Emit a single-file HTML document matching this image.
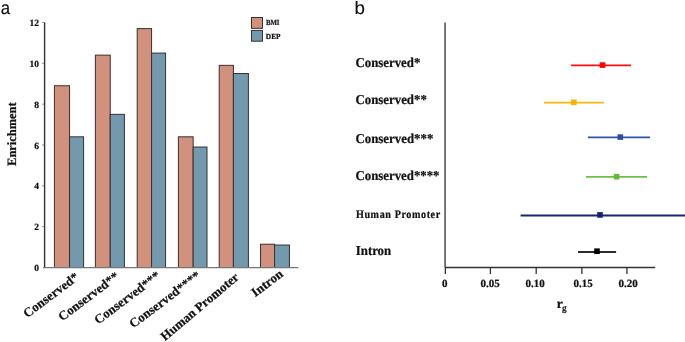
<!DOCTYPE html>
<html><head><meta charset="utf-8"><title>Enrichment and genetic correlation</title>
<style>
html,body{margin:0;padding:0;background:#fff;}
body{width:685px;height:342px;overflow:hidden;font-family:"Liberation Serif",serif;}
svg{display:block;will-change:transform;}
text{stroke:#111;stroke-width:0.22px;text-rendering:geometricPrecision;}
</style></head><body>
<svg width="685" height="342" viewBox="0 0 685 342">
<rect x="0" y="0" width="685" height="342" fill="#fff"/>
<text transform="translate(0.65,13.6) scale(0.92,1)" font-family='"Liberation Sans", sans-serif' font-size="18.3" fill="#111" style="stroke-width:0.15px">a</text>
<line x1="44.6" y1="22.5" x2="44.6" y2="267.6" stroke="#333" stroke-width="1.4"/>
<text x="39" y="271.10" text-anchor="end" font-family='"Liberation Serif", serif' font-weight="bold" font-size="9.5" fill="#111">0</text>
<line x1="42.2" y1="226.66" x2="44.5" y2="226.66" stroke="#555" stroke-width="0.7"/>
<text x="39" y="230.26" text-anchor="end" font-family='"Liberation Serif", serif' font-weight="bold" font-size="9.5" fill="#111">2</text>
<line x1="42.2" y1="185.82" x2="44.5" y2="185.82" stroke="#555" stroke-width="0.7"/>
<text x="39" y="189.42" text-anchor="end" font-family='"Liberation Serif", serif' font-weight="bold" font-size="9.5" fill="#111">4</text>
<line x1="42.2" y1="144.98" x2="44.5" y2="144.98" stroke="#555" stroke-width="0.7"/>
<text x="39" y="148.58" text-anchor="end" font-family='"Liberation Serif", serif' font-weight="bold" font-size="9.5" fill="#111">6</text>
<line x1="42.2" y1="104.14" x2="44.5" y2="104.14" stroke="#555" stroke-width="0.7"/>
<text x="39" y="107.74" text-anchor="end" font-family='"Liberation Serif", serif' font-weight="bold" font-size="9.5" fill="#111">8</text>
<line x1="42.2" y1="63.30" x2="44.5" y2="63.30" stroke="#555" stroke-width="0.7"/>
<text x="39" y="66.90" text-anchor="end" font-family='"Liberation Serif", serif' font-weight="bold" font-size="9.5" fill="#111">10</text>
<line x1="42.2" y1="22.46" x2="44.5" y2="22.46" stroke="#555" stroke-width="0.7"/>
<text x="39" y="26.06" text-anchor="end" font-family='"Liberation Serif", serif' font-weight="bold" font-size="9.5" fill="#111">12</text>
<text transform="translate(16.0,134.2) rotate(-90)" text-anchor="middle" textLength="63.4" lengthAdjust="spacingAndGlyphs" font-family='"Liberation Serif", serif' font-weight="bold" font-size="12.8" fill="#111">Enrichment</text>
<rect x="54.40" y="85.76" width="15.16" height="181.74" fill="#d1917c" stroke="#3a3030" stroke-width="1"/>
<rect x="69.56" y="136.81" width="14.02" height="130.69" fill="#7299ad" stroke="#3a3030" stroke-width="1"/>
<rect x="95.39" y="55.13" width="14.83" height="212.37" fill="#d1917c" stroke="#3a3030" stroke-width="1"/>
<rect x="110.22" y="114.35" width="14.19" height="153.15" fill="#7299ad" stroke="#3a3030" stroke-width="1"/>
<rect x="137.20" y="28.59" width="14.37" height="238.91" fill="#d1917c" stroke="#3a3030" stroke-width="1"/>
<rect x="151.57" y="53.09" width="14.01" height="214.41" fill="#7299ad" stroke="#3a3030" stroke-width="1"/>
<rect x="178.38" y="136.81" width="14.77" height="130.69" fill="#d1917c" stroke="#3a3030" stroke-width="1"/>
<rect x="193.15" y="147.02" width="13.85" height="120.48" fill="#7299ad" stroke="#3a3030" stroke-width="1"/>
<rect x="219.20" y="65.34" width="14.19" height="202.16" fill="#d1917c" stroke="#3a3030" stroke-width="1"/>
<rect x="233.39" y="73.51" width="15.01" height="193.99" fill="#7299ad" stroke="#3a3030" stroke-width="1"/>
<rect x="260.55" y="244.22" width="14.01" height="23.28" fill="#d1917c" stroke="#3a3030" stroke-width="1"/>
<rect x="274.56" y="245.04" width="14.89" height="22.46" fill="#7299ad" stroke="#3a3030" stroke-width="1"/>
<line x1="43" y1="267.6" x2="298.5" y2="267.6" stroke="#777" stroke-width="1.3"/>
<rect x="251.5" y="17.5" width="11" height="10.8" fill="#d1917c" stroke="#3a3030" stroke-width="1"/>
<rect x="251.5" y="30.4" width="11" height="10.8" fill="#7299ad" stroke="#3a3030" stroke-width="1"/>
<text x="265.88" y="25.30" textLength="13.65" lengthAdjust="spacingAndGlyphs" font-family='"Liberation Serif", serif' font-weight="bold" font-size="7.7" fill="#111" stroke="#111" stroke-width="0.3">BMI</text>
<text x="265.87" y="38.60" textLength="14.64" lengthAdjust="spacingAndGlyphs" font-family='"Liberation Serif", serif' font-weight="bold" font-size="7.7" fill="#111" stroke="#111" stroke-width="0.3">DEP</text>
<text transform="translate(79.80,278.70) rotate(-37)" text-anchor="end" font-family='"Liberation Serif", serif' font-weight="bold" font-size="13.0" fill="#111">Conserved<tspan font-weight="normal" style="stroke-width:0.35px">*</tspan></text>
<text transform="translate(120.00,278.00) rotate(-37)" text-anchor="end" font-family='"Liberation Serif", serif' font-weight="bold" font-size="13.0" fill="#111">Conserved<tspan font-weight="normal" style="stroke-width:0.35px">**</tspan></text>
<text transform="translate(161.20,277.40) rotate(-37)" text-anchor="end" font-family='"Liberation Serif", serif' font-weight="bold" font-size="13.0" fill="#111">Conserved<tspan font-weight="normal" style="stroke-width:0.35px">***</tspan></text>
<text transform="translate(201.40,277.30) rotate(-37)" text-anchor="end" font-family='"Liberation Serif", serif' font-weight="bold" font-size="13.0" fill="#111">Conserved<tspan font-weight="normal" style="stroke-width:0.35px">****</tspan></text>
<text transform="translate(239.70,278.50) rotate(-40)" text-anchor="end" font-family='"Liberation Serif", serif' font-weight="bold" font-size="12.9" fill="#111">Human Promoter</text>
<text transform="translate(284.00,275.60) rotate(-37)" text-anchor="end" font-family='"Liberation Serif", serif' font-weight="bold" font-size="13.0" fill="#111">Intron</text>
<text transform="translate(354.4,13.5) scale(1.04,1)" font-family='"Liberation Sans", sans-serif' font-size="18" fill="#111" style="stroke-width:0.15px">b</text>
<line x1="445.1" y1="22.5" x2="445.1" y2="267" stroke="#6a6a6a" stroke-width="1.8"/>
<line x1="444.8" y1="267.5" x2="655.2" y2="267.5" stroke="#333" stroke-width="1.4"/>
<line x1="445.35" y1="267.5" x2="445.35" y2="274" stroke="#333" stroke-width="1.3"/>
<text x="444.70" y="287.4" text-anchor="middle" font-family='"Liberation Serif", serif' font-weight="bold" font-size="11" fill="#111">0</text>
<line x1="490.4" y1="267.5" x2="490.4" y2="274" stroke="#333" stroke-width="1.3"/>
<text x="490.20" y="287.4" text-anchor="middle" font-family='"Liberation Serif", serif' font-weight="bold" font-size="11" fill="#111">0.05</text>
<line x1="536.2" y1="267.5" x2="536.2" y2="274" stroke="#333" stroke-width="1.3"/>
<text x="535.10" y="287.4" text-anchor="middle" font-family='"Liberation Serif", serif' font-weight="bold" font-size="11" fill="#111">0.10</text>
<line x1="581.9" y1="267.5" x2="581.9" y2="274" stroke="#333" stroke-width="1.3"/>
<text x="583.20" y="287.4" text-anchor="middle" font-family='"Liberation Serif", serif' font-weight="bold" font-size="11" fill="#111">0.15</text>
<line x1="626.9" y1="267.5" x2="626.9" y2="274" stroke="#333" stroke-width="1.3"/>
<text x="628.20" y="287.4" text-anchor="middle" font-family='"Liberation Serif", serif' font-weight="bold" font-size="11" fill="#111">0.20</text>
<text x="556.7" y="308.2" font-family='"Liberation Serif", serif' font-weight="bold" font-size="13.5" fill="#111">r</text>
<text x="561.9" y="310.6" font-family='"Liberation Serif", serif' font-weight="normal" font-size="9.2" fill="#111" style="stroke-width:0.35px">g</text>
<text x="355.47" y="67.35" textLength="64.87" lengthAdjust="spacingAndGlyphs" font-family='"Liberation Serif", serif' font-weight="bold" font-size="13.6" fill="#111">Conserved*</text>
<text x="355.47" y="104.20" textLength="71.37" lengthAdjust="spacingAndGlyphs" font-family='"Liberation Serif", serif' font-weight="bold" font-size="13.6" fill="#111">Conserved**</text>
<text x="355.47" y="142.60" textLength="77.87" lengthAdjust="spacingAndGlyphs" font-family='"Liberation Serif", serif' font-weight="bold" font-size="13.6" fill="#111">Conserved***</text>
<text x="355.47" y="179.70" textLength="84.07" lengthAdjust="spacingAndGlyphs" font-family='"Liberation Serif", serif' font-weight="bold" font-size="13.6" fill="#111">Conserved****</text>
<text x="355.76" y="255.25" textLength="35.43" lengthAdjust="spacingAndGlyphs" font-family='"Liberation Serif", serif' font-weight="bold" font-size="13.6" fill="#111">Intron</text>
<text transform="scale(0.88,1)" x="404.46" y="217.6" textLength="95.78" lengthAdjust="spacing" font-family='"Liberation Serif", serif' font-weight="bold" font-size="11.5" fill="#111">Human Promoter</text>
<line x1="571.1" y1="65.4" x2="631.0" y2="65.4" stroke="#ff1010" stroke-width="1.8"/>
<rect x="599.80" y="62.30" width="5.6" height="5.6" fill="#ff0000"/>
<line x1="544.0" y1="102.6" x2="603.9" y2="102.6" stroke="#f7b90f" stroke-width="1.8"/>
<rect x="571.00" y="99.50" width="5.6" height="5.6" fill="#f2b600"/>
<line x1="587.9" y1="137.4" x2="650.1" y2="137.4" stroke="#2d55a8" stroke-width="1.8"/>
<rect x="617.50" y="134.30" width="5.6" height="5.6" fill="#2a4fa0"/>
<line x1="585.9" y1="176.8" x2="647.1" y2="176.8" stroke="#6dc043" stroke-width="1.8"/>
<rect x="613.80" y="173.90" width="5.6" height="5.6" fill="#66b83d"/>
<line x1="520.6" y1="215.5" x2="686.0" y2="215.5" stroke="#1b2570" stroke-width="1.8"/>
<rect x="597.20" y="212.10" width="5.6" height="5.6" fill="#13226a"/>
<line x1="578.0" y1="252.0" x2="616.1" y2="252.0" stroke="#2b2b2b" stroke-width="1.8"/>
<rect x="594.20" y="248.40" width="5.6" height="5.6" fill="#000000"/>
</svg>
</body></html>
